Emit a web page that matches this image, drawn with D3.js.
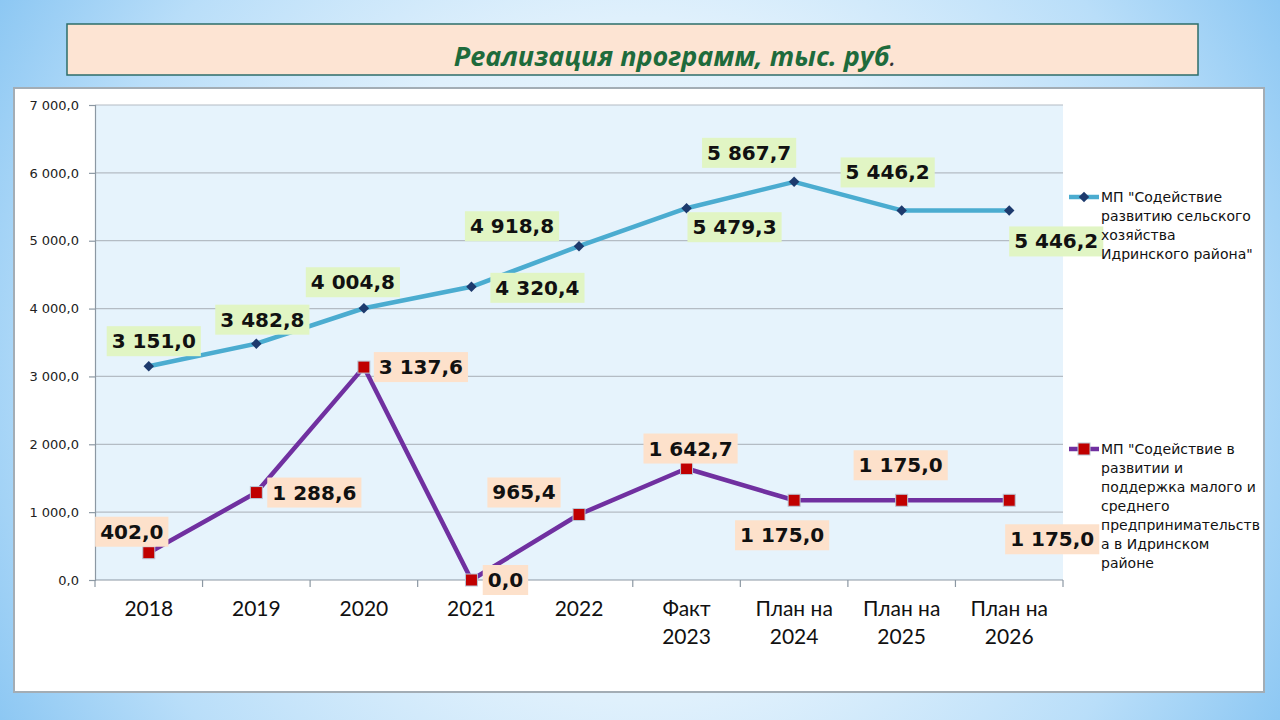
<!DOCTYPE html>
<html><head><meta charset="utf-8">
<script src="https://cdn.jsdelivr.net/npm/d3@7"></script>
<style>html,body{margin:0;padding:0;overflow:hidden;background:#fff}</style>
</head><body><svg id="c" width="1280" height="720"></svg>
<script>
const categories = [["2018"],["2019"],["2020"],["2021"],["2022"],["Факт","2023"],["План на","2024"],["План на","2025"],["План на","2026"]];
const series1Values = [3151.0, 3482.8, 4004.8, 4320.4, 4918.8, 5479.3, 5867.7, 5446.2, 5446.2];
const series2Values = [402.0, 1288.6, 3137.6, 0.0, 965.4, 1642.7, 1175.0, 1175.0, 1175.0];
const yTicks = [0, 1000, 2000, 3000, 4000, 5000, 6000, 7000];
const series1Name = ['МП "Содействие', 'развитию сельского', 'хозяйства', 'Идринского района"'];
const series2Name = ['МП "Содействие в', 'развитии и', 'поддержка малого и', 'среднего', 'предпринимательств', 'а в Идринском', 'районе'];
const titleText = "Реализация программ, тыс. руб";

// label placement offsets (label centre relative to point), layout only
const lab1Off = [[5,-25],[6,-24],[-11,-26],[66,1],[-67,-20],[48,19],[-45,-29],[-14,-38],[47,31]];
const lab2Off = [[-17,-21],[58,0],[57,0],[34,0],[-55,-22],[4,-20],[-12,35],[-1,-35],[43,39]];

const svg = d3.select("#c");
const defs = svg.append("defs");
const rg = defs.append("radialGradient").attr("id","bg").attr("gradientUnits","userSpaceOnUse")
  .attr("cx",640).attr("cy",360).attr("r",760);
[[0,"#f0f8fe"],[0.45,"#dff0fc"],[0.75,"#b9def9"],[1,"#86c4f2"]].forEach(s=>rg.append("stop").attr("offset",s[0]).attr("stop-color",s[1]));
svg.append("rect").attr("width",1280).attr("height",720).attr("fill","url(#bg)");

// title box
svg.append("rect").attr("x",67).attr("y",24).attr("width",1131).attr("height",51)
  .attr("fill","#fde4d3").attr("stroke","#2d6d6a").attr("stroke-width",1.5);
const tt = svg.append("text").attr("x",675).attr("y",66).attr("text-anchor","middle")
  .attr("font-family","'Open Sans', sans-serif").attr("font-style","italic").attr("font-weight","bold")
  .attr("font-size",27).attr("fill","#1e6b3c");
tt.append("tspan").text(titleText);
tt.append("tspan").attr("fill","#333").attr("font-weight","normal").text(".");

// chart box
svg.append("rect").attr("x",14).attr("y",88).attr("width",1250).attr("height",604)
  .attr("fill","#fff").attr("stroke","#a3adb5").attr("stroke-width",2);

const pL = 95, pR = 1063, pT = 105, pB = 580;
const x = d3.scaleBand().domain(categories.map((d,i)=>i)).range([pL,pR]);
const y = d3.scaleLinear().domain([0,7000]).range([pB,pT]);

svg.append("rect").attr("x",pL).attr("y",pT).attr("width",pR-pL).attr("height",pB-pT).attr("fill","#e6f3fc");

// gridlines
svg.append("g").selectAll("line").data(yTicks.filter(d=>d>0)).join("line")
  .attr("x1",pL).attr("x2",pR).attr("y1",d=>y(d)).attr("y2",d=>y(d))
  .attr("stroke","#b4bcc4").attr("stroke-width",1.2);

// y axis
const fmt = v => d3.format(",.1f")(v).replace(/,/g," ").replace(".",",");
const yAxis = svg.append("g").attr("transform",`translate(${pL},0)`)
  .call(d3.axisLeft(y).tickValues(yTicks).tickSize(6).tickPadding(10).tickFormat(fmt));
yAxis.select(".domain").attr("stroke","#8c98a3").attr("stroke-width",1.2);
yAxis.selectAll(".tick line").attr("stroke","#8c98a3").attr("stroke-width",1.2);
yAxis.selectAll("text").attr("font-family","'DejaVu Sans', sans-serif").attr("font-size",13).attr("fill","#222");

// x axis
const xg = svg.append("g");
xg.append("line").attr("x1",pL).attr("x2",pR).attr("y1",pB).attr("y2",pB).attr("stroke","#8c98a3").attr("stroke-width",1.2);
const bounds = categories.map((d,i)=>x(i)).concat([pR]);
xg.selectAll("line.t").data(bounds).join("line").attr("class","t")
  .attr("x1",d=>d).attr("x2",d=>d).attr("y1",pB).attr("y2",pB+7).attr("stroke","#8c98a3").attr("stroke-width",1.2);
categories.forEach((lines,i)=>{
  const t = xg.append("text").attr("x",x(i)+x.bandwidth()/2).attr("y",616).attr("text-anchor","middle")
    .attr("font-family","Lato, sans-serif").attr("font-size",21).attr("fill","#111");
  lines.forEach((l,j)=>t.append("tspan").attr("x",x(i)+x.bandwidth()/2).attr("dy",j?28:0).text(l));
});

const cx = i => x(i)+x.bandwidth()/2;
const line = d3.line().x((d,i)=>cx(i)).y(d=>y(d));
svg.append("path").attr("d",line(series1Values)).attr("fill","none").attr("stroke","#4bacd0").attr("stroke-width",4.5).attr("stroke-linejoin","round");
svg.append("path").attr("d",line(series2Values)).attr("fill","none").attr("stroke","#7030a0").attr("stroke-width",4.5).attr("stroke-linejoin","round");

const diamond = d3.symbol().type(d3.symbolDiamond2).size(70);
svg.append("g").selectAll("path").data(series1Values).join("path")
  .attr("d",diamond).attr("transform",(d,i)=>`translate(${cx(i)},${y(d)})`).attr("fill","#1d3a6d");
svg.append("g").selectAll("rect").data(series2Values).join("rect")
  .attr("x",(d,i)=>cx(i)-6).attr("y",d=>y(d)-6).attr("width",12).attr("height",12)
  .attr("fill","#c00000").attr("stroke","#b9c7d6").attr("stroke-width",1);

function labels(vals, offs, bg){
  const g = svg.append("g");
  vals.forEach((v,i)=>{
    const px = cx(i)+offs[i][0], py = y(v)+offs[i][1];
    const r = g.append("rect").attr("fill",bg);
    const t = g.append("text").attr("x",px).attr("y",py+7).attr("text-anchor","middle")
      .attr("font-family","'DejaVu Sans', sans-serif").attr("font-weight","bold").attr("font-size",20).attr("fill","#111").text(fmt(v));
    const b = t.node().getBBox();
    r.attr("x",b.x-5).attr("y",py-15).attr("width",b.width+10).attr("height",30);
  });
}
labels(series1Values, lab1Off, "#e1f5c4");
labels(series2Values, lab2Off, "#fde1cb");

// legend
function legend(yl, name, color, marker){
  const g = svg.append("g");
  g.append("line").attr("x1",1069).attr("x2",1099).attr("y1",yl).attr("y2",yl).attr("stroke",color).attr("stroke-width",4.5);
  if(marker==="d") g.append("path").attr("d",diamond).attr("transform",`translate(1084,${yl})`).attr("fill","#1d3a6d");
  else g.append("rect").attr("x",1078).attr("y",yl-6).attr("width",12).attr("height",12).attr("fill","#c00000").attr("stroke","#b9c7d6");
  const t = g.append("text").attr("x",1101).attr("y",yl+5).attr("font-family","'DejaVu Sans', sans-serif").attr("font-size",14).attr("fill","#111");
  name.forEach((l,j)=>t.append("tspan").attr("x",1101).attr("dy",j?19:0).text(l));
}
legend(197, series1Name, "#4bacd0", "d");
legend(449, series2Name, "#7030a0", "s");
</script></body></html>
